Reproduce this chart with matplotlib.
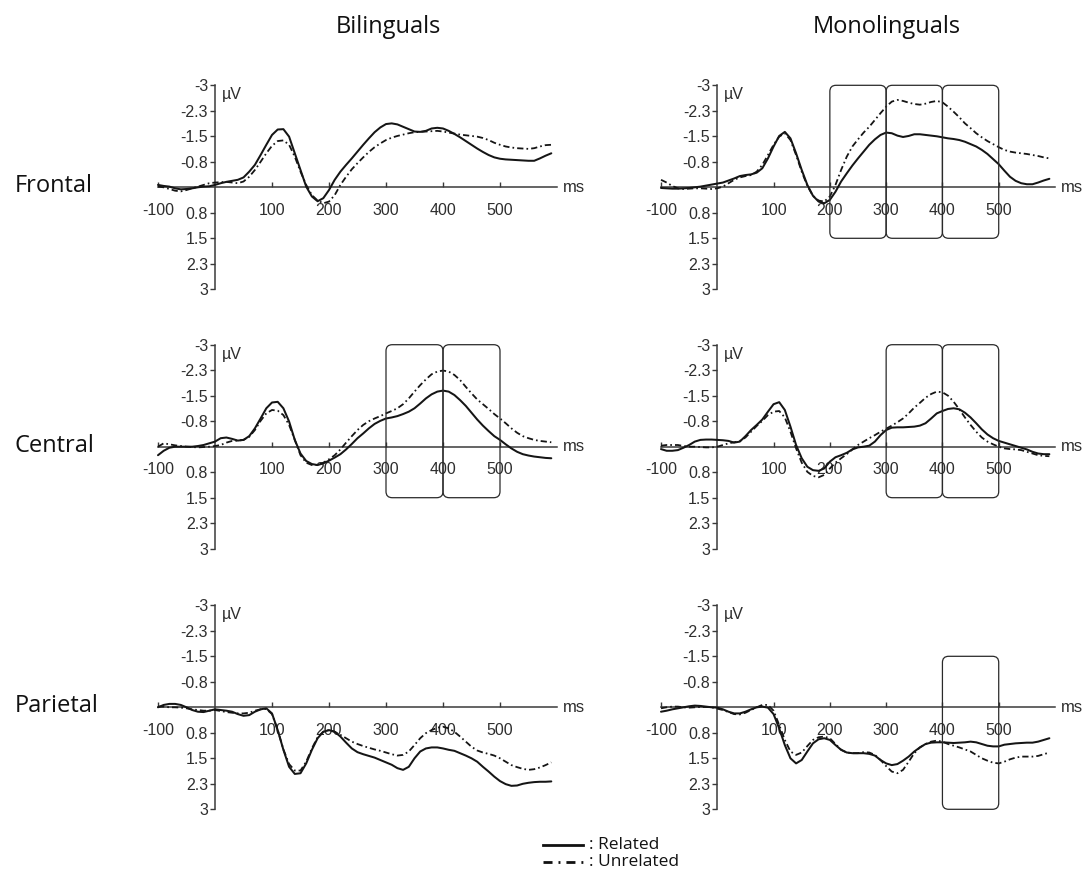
import numpy as np
import matplotlib
matplotlib.use("Agg")
import matplotlib.pyplot as plt
from matplotlib.patches import FancyBboxPatch
from matplotlib.lines import Line2D

plt.rcParams['lines.scale_dashes'] = False

# ---------------- data ----------------
time_ms = list(range(-100, 600, 10))

groups = ["Bilinguals", "Monolinguals"]
regions = ["Frontal", "Central", "Parietal"]
legend_labels = [": Related", ": Unrelated"]
ytick_vals = [-3, -2.25, -1.5, -0.75, 0.75, 1.5, 2.25, 3]
ytick_labels = ["-3", "-2.3", "-1.5", "-0.8", "0.8", "1.5", "2.3", "3"]
xtick_vals = [-100, 100, 200, 300, 400, 500]
xtick_labels = ["-100", "100", "200", "300", "400", "500"]

frontal_bi_related = [
    -0.07, -0.04, -0.02, 0.03, 0.06, 0.05, 0.03, 0.00, -0.02, -0.03,
    -0.07, -0.12, -0.16, -0.19, -0.22, -0.29, -0.46, -0.66, -0.95, -1.25,
    -1.54, -1.70, -1.71, -1.49, -1.00, -0.51, -0.02, 0.27, 0.41, 0.32,
    0.08, -0.22, -0.46, -0.66, -0.85, -1.05, -1.25, -1.44, -1.62, -1.76,
    -1.86, -1.88, -1.85, -1.78, -1.71, -1.64, -1.63, -1.66, -1.73, -1.75,
    -1.73, -1.66, -1.57, -1.47, -1.36, -1.25, -1.14, -1.04, -0.95, -0.88,
    -0.84, -0.82, -0.81, -0.80, -0.79, -0.78, -0.78, -0.85, -0.93, -1.00]
frontal_bi_unrelated = [
    -0.02, 0.00, 0.05, 0.10, 0.12, 0.08, 0.03, -0.02, -0.07, -0.12,
    -0.14, -0.15, -0.16, -0.14, -0.12, -0.17, -0.31, -0.51, -0.75, -1.00,
    -1.22, -1.36, -1.38, -1.25, -0.90, -0.46, -0.07, 0.23, 0.39, 0.47,
    0.42, 0.23, -0.07, -0.31, -0.53, -0.71, -0.88, -1.04, -1.18, -1.29,
    -1.39, -1.46, -1.51, -1.55, -1.59, -1.62, -1.63, -1.64, -1.65, -1.66,
    -1.64, -1.61, -1.58, -1.55, -1.53, -1.51, -1.49, -1.45, -1.39, -1.31,
    -1.25, -1.20, -1.17, -1.15, -1.14, -1.13, -1.15, -1.20, -1.24, -1.25]
frontal_mono_related = [
    0.02, 0.03, 0.04, 0.04, 0.03, 0.02, 0.00, -0.02, -0.05, -0.08,
    -0.11, -0.14, -0.20, -0.26, -0.33, -0.36, -0.38, -0.43, -0.56, -0.85,
    -1.20, -1.51, -1.63, -1.44, -1.00, -0.51, -0.07, 0.25, 0.42, 0.47,
    0.37, 0.13, -0.17, -0.41, -0.64, -0.85, -1.05, -1.25, -1.41, -1.54,
    -1.61, -1.59, -1.52, -1.48, -1.51, -1.56, -1.56, -1.54, -1.52, -1.50,
    -1.47, -1.44, -1.42, -1.39, -1.34, -1.27, -1.20, -1.10, -0.98, -0.83,
    -0.68, -0.49, -0.31, -0.19, -0.12, -0.09, -0.09, -0.14, -0.20, -0.25]
frontal_mono_unrelated = [
    -0.22, -0.14, -0.04, 0.03, 0.05, 0.04, 0.03, 0.03, 0.04, 0.05,
    0.03, -0.02, -0.12, -0.22, -0.29, -0.33, -0.36, -0.46, -0.66, -0.95,
    -1.25, -1.49, -1.59, -1.39, -0.95, -0.46, -0.04, 0.25, 0.39, 0.42,
    0.27, -0.07, -0.51, -0.90, -1.20, -1.41, -1.61, -1.78, -1.98, -2.18,
    -2.37, -2.52, -2.57, -2.54, -2.49, -2.45, -2.43, -2.46, -2.51, -2.54,
    -2.50, -2.37, -2.22, -2.06, -1.88, -1.74, -1.59, -1.47, -1.36, -1.27,
    -1.18, -1.10, -1.05, -1.02, -1.00, -0.98, -0.95, -0.92, -0.88, -0.85]
central_bi_related = [
    0.25, 0.12, 0.03, 0.00, 0.00, 0.00, 0.00, -0.02, -0.05, -0.10,
    -0.15, -0.25, -0.27, -0.23, -0.18, -0.20, -0.31, -0.54, -0.83, -1.13,
    -1.30, -1.32, -1.13, -0.74, -0.20, 0.20, 0.42, 0.51, 0.54, 0.49,
    0.41, 0.32, 0.22, 0.08, -0.08, -0.25, -0.39, -0.54, -0.67, -0.76,
    -0.83, -0.86, -0.90, -0.96, -1.03, -1.13, -1.27, -1.42, -1.54, -1.62,
    -1.65, -1.62, -1.52, -1.37, -1.20, -1.00, -0.80, -0.62, -0.46, -0.31,
    -0.20, -0.07, 0.05, 0.15, 0.22, 0.26, 0.29, 0.31, 0.33, 0.34]
central_bi_unrelated = [
    0.00, -0.10, -0.07, -0.04, -0.02, 0.00, 0.01, 0.02, 0.01, 0.00,
    -0.02, -0.05, -0.12, -0.17, -0.18, -0.20, -0.29, -0.49, -0.76, -0.98,
    -1.08, -1.06, -0.93, -0.64, -0.20, 0.25, 0.47, 0.54, 0.54, 0.47,
    0.37, 0.25, 0.08, -0.12, -0.31, -0.49, -0.64, -0.75, -0.83, -0.90,
    -0.98, -1.05, -1.13, -1.25, -1.42, -1.62, -1.81, -1.98, -2.13, -2.21,
    -2.24, -2.21, -2.11, -1.96, -1.76, -1.57, -1.39, -1.25, -1.11, -0.96,
    -0.83, -0.69, -0.54, -0.41, -0.31, -0.25, -0.20, -0.17, -0.15, -0.13]
central_mono_related = [
    0.07, 0.12, 0.12, 0.10, 0.03, -0.05, -0.15, -0.20, -0.21, -0.21,
    -0.20, -0.19, -0.17, -0.12, -0.15, -0.31, -0.49, -0.64, -0.80, -1.03,
    -1.25, -1.31, -1.08, -0.59, -0.05, 0.34, 0.59, 0.69, 0.71, 0.64,
    0.44, 0.31, 0.25, 0.18, 0.08, 0.02, 0.00, -0.03, -0.15, -0.34,
    -0.49, -0.56, -0.57, -0.57, -0.58, -0.59, -0.62, -0.69, -0.83, -0.98,
    -1.05, -1.11, -1.13, -1.10, -1.00, -0.86, -0.69, -0.51, -0.36, -0.25,
    -0.17, -0.12, -0.07, -0.02, 0.03, 0.08, 0.15, 0.20, 0.22, 0.22]
central_mono_unrelated = [
    -0.03, -0.05, -0.05, -0.05, -0.02, 0.00, 0.00, 0.01, 0.02, 0.02,
    0.00, -0.05, -0.10, -0.13, -0.17, -0.27, -0.44, -0.61, -0.76, -0.93,
    -1.03, -1.05, -0.86, -0.44, 0.05, 0.47, 0.74, 0.86, 0.90, 0.83,
    0.64, 0.47, 0.34, 0.22, 0.08, -0.05, -0.15, -0.25, -0.34, -0.44,
    -0.53, -0.62, -0.72, -0.83, -0.98, -1.15, -1.29, -1.44, -1.55, -1.62,
    -1.60, -1.50, -1.32, -1.10, -0.86, -0.64, -0.44, -0.27, -0.15, -0.07,
    0.00, 0.05, 0.07, 0.08, 0.10, 0.15, 0.20, 0.25, 0.27, 0.28]
parietal_bi_related = [
    0.00, -0.07, -0.10, -0.10, -0.07, 0.00, 0.08, 0.13, 0.14, 0.10,
    0.06, 0.08, 0.10, 0.13, 0.20, 0.25, 0.23, 0.13, 0.06, 0.03,
    0.18, 0.67, 1.25, 1.75, 1.96, 1.94, 1.65, 1.25, 0.91, 0.72,
    0.67, 0.72, 0.86, 1.04, 1.21, 1.32, 1.38, 1.43, 1.48, 1.55,
    1.62, 1.69, 1.79, 1.84, 1.75, 1.50, 1.30, 1.21, 1.18, 1.18,
    1.21, 1.25, 1.28, 1.35, 1.42, 1.50, 1.60, 1.75, 1.89, 2.04,
    2.17, 2.26, 2.31, 2.30, 2.25, 2.22, 2.20, 2.19, 2.19, 2.18]
parietal_bi_unrelated = [
    -0.02, -0.02, 0.00, 0.00, 0.01, 0.03, 0.06, 0.08, 0.10, 0.10,
    0.08, 0.11, 0.14, 0.16, 0.18, 0.18, 0.16, 0.10, 0.06, 0.05,
    0.20, 0.67, 1.24, 1.67, 1.86, 1.86, 1.60, 1.21, 0.88, 0.72,
    0.67, 0.72, 0.81, 0.91, 1.01, 1.08, 1.14, 1.19, 1.24, 1.28,
    1.33, 1.38, 1.42, 1.40, 1.30, 1.11, 0.91, 0.76, 0.67, 0.60,
    0.57, 0.62, 0.72, 0.86, 1.01, 1.16, 1.27, 1.33, 1.37, 1.42,
    1.50, 1.60, 1.70, 1.76, 1.81, 1.84, 1.82, 1.77, 1.70, 1.62]
parietal_mono_related = [
    0.13, 0.10, 0.06, 0.03, 0.00, -0.03, -0.05, -0.04, -0.02, 0.00,
    0.01, 0.06, 0.13, 0.18, 0.18, 0.13, 0.06, 0.00, -0.02, 0.01,
    0.20, 0.62, 1.11, 1.50, 1.65, 1.55, 1.30, 1.06, 0.94, 0.91,
    0.96, 1.11, 1.25, 1.33, 1.35, 1.35, 1.35, 1.37, 1.42, 1.55,
    1.65, 1.70, 1.67, 1.57, 1.45, 1.30, 1.18, 1.08, 1.04, 1.03,
    1.03, 1.04, 1.05, 1.04, 1.03, 1.01, 1.03, 1.08, 1.13, 1.15,
    1.15, 1.10, 1.08, 1.06, 1.05, 1.04, 1.04, 1.01, 0.96, 0.91]
parietal_mono_unrelated = [
    0.03, 0.00, -0.02, -0.02, 0.00, 0.01, 0.00, -0.01, -0.01, 0.00,
    0.04, 0.08, 0.14, 0.20, 0.21, 0.16, 0.08, 0.00, -0.07, -0.07,
    0.10, 0.52, 0.96, 1.30, 1.40, 1.33, 1.14, 0.96, 0.88, 0.86,
    0.91, 1.08, 1.25, 1.33, 1.35, 1.35, 1.32, 1.33, 1.40, 1.55,
    1.73, 1.89, 1.94, 1.84, 1.60, 1.35, 1.18, 1.08, 1.01, 0.98,
    1.01, 1.08, 1.13, 1.18, 1.24, 1.30, 1.40, 1.50, 1.57, 1.63,
    1.65, 1.60, 1.53, 1.48, 1.45, 1.45, 1.45, 1.43, 1.38, 1.33]

series = {
    (0, 0): (frontal_bi_related, frontal_bi_unrelated),
    (0, 1): (frontal_mono_related, frontal_mono_unrelated),
    (1, 0): (central_bi_related, central_bi_unrelated),
    (1, 1): (central_mono_related, central_mono_unrelated),
    (2, 0): (parietal_bi_related, parietal_bi_unrelated),
    (2, 1): (parietal_mono_related, parietal_mono_unrelated),
}

# analysis windows: (start ms, end ms, top µV, bottom µV)
windows = {
    (0, 1): [(200, 300, -3, 1.5), (300, 400, -3, 1.5), (400, 500, -3, 1.5)],
    (1, 0): [(300, 400, -3, 1.5), (400, 500, -3, 1.5)],
    (1, 1): [(300, 400, -3, 1.5), (400, 500, -3, 1.5)],
    (2, 1): [(400, 500, -1.5, 3)],
}

# ---------------- layout ----------------
W, H = 1091, 874
fig = plt.figure(figsize=(W / 100, H / 100), dpi=100)
fig.patch.set_facecolor("white")

AX_COL = "#3a3a3a"
TXT_COL = "#2e2e2e"
LINE_COL = "#151515"
TICK_FONT = "Liberation Sans"
LABEL_FONT = "Open Sans"

col_px = [(158, 557), (661, 1055)]
row_zero_px = [187.3, 446.7, 707.3]
px_per_uv = 34.0
ylim_pad = 3.1


def fig_xy(x, y):
    return x / W, 1 - y / H


for r in range(3):
    for c in range(2):
        x0, x1 = col_px[c]
        y0 = row_zero_px[r]
        top = y0 - ylim_pad * px_per_uv
        bot = y0 + ylim_pad * px_per_uv
        ax = fig.add_axes([x0 / W, 1 - bot / H, (x1 - x0) / W, (bot - top) / H])
        ax.set_facecolor("none")
        ax.set_xlim(-100, 600)
        ax.set_ylim(ylim_pad, -ylim_pad)

        rel, unr = series[(r, c)]
        ax.plot(time_ms, rel, color=LINE_COL, lw=1.45, solid_capstyle="round",
                clip_on=False, zorder=3)
        ax.plot(time_ms, unr, color=LINE_COL, lw=1.3,
                linestyle=(0, (4.5, 2.2, 1.2, 2.2)), clip_on=False, zorder=3)

        for sp in ["top", "right"]:
            ax.spines[sp].set_visible(False)
        ax.spines["left"].set_position(("data", 0))
        ax.spines["bottom"].set_position(("data", 0))
        ax.spines["left"].set_bounds(-3, 3)
        ax.spines["bottom"].set_bounds(-100, 600)
        for sp in ["left", "bottom"]:
            ax.spines[sp].set_color(AX_COL)
            ax.spines[sp].set_linewidth(1.1)
            ax.spines[sp].set_zorder(2)

        ax.set_yticks(ytick_vals)
        ax.set_yticklabels(ytick_labels)
        ax.set_xticks(xtick_vals)
        ax.set_xticklabels(xtick_labels)
        ax.tick_params(axis="y", direction="out", length=3.5, width=1.0,
                       color=AX_COL, pad=1.5, labelsize=11.5, labelcolor=TXT_COL)
        ax.tick_params(axis="x", direction="in", length=3.5, width=1.0,
                       color=AX_COL, pad=11, labelsize=11.5, labelcolor=TXT_COL)
        for lab in ax.get_xticklabels() + ax.get_yticklabels():
            lab.set_fontfamily(TICK_FONT)

        ax.text(12, -2.72, "µV", ha="left", va="center", fontsize=11.5,
                color=TXT_COL, family=TICK_FONT)
        ax.text(610, 0, "ms", ha="left", va="center", fontsize=12,
                color=TXT_COL, family=TICK_FONT, clip_on=False)

        px_per_ms = (x1 - x0) / 700.0
        aspect = px_per_ms / px_per_uv
        for (t0, t1, ytop, ybot) in windows.get((r, c), []):
            box = FancyBboxPatch((t0, ytop), t1 - t0, ybot - ytop,
                                 boxstyle="round,pad=0,rounding_size=11",
                                 mutation_aspect=aspect,
                                 fill=False, edgecolor="#2a2a2a", lw=0.9,
                                 clip_on=False, zorder=4)
            ax.add_patch(box)

# row labels
for r, name in enumerate(regions):
    fx, fy = fig_xy(15, row_zero_px[r] - 1)
    fig.text(fx, fy, name, ha="left", va="center", fontsize=17,
             family=LABEL_FONT, color="#111111")

# column titles
for (cx, name) in zip([388, 887], groups):
    fx, fy = fig_xy(cx, 33)
    fig.text(fx, fy, name, ha="center", va="baseline", fontsize=17,
             family=LABEL_FONT, color="#111111")

# legend
lx0, lx1 = 543, 583
ly = [845, 862]
styles = [dict(linestyle="-"), dict(linestyle=(0, (6.5, 4.3, 1.4, 4.3)))]
for i, lab in enumerate(legend_labels):
    a, yy = fig_xy(lx0, ly[i])
    b, _ = fig_xy(lx1, ly[i])
    fig.add_artist(Line2D([a, b], [yy, yy], transform=fig.transFigure,
                          color="#111111", lw=2.0, **styles[i]))
    tx, ty = fig_xy(589, ly[i])
    fig.text(tx, ty, lab, ha="left", va="center", fontsize=12.5,
             family=LABEL_FONT, color="#111111")

fig.savefig("out.png", dpi=100, facecolor="white")
